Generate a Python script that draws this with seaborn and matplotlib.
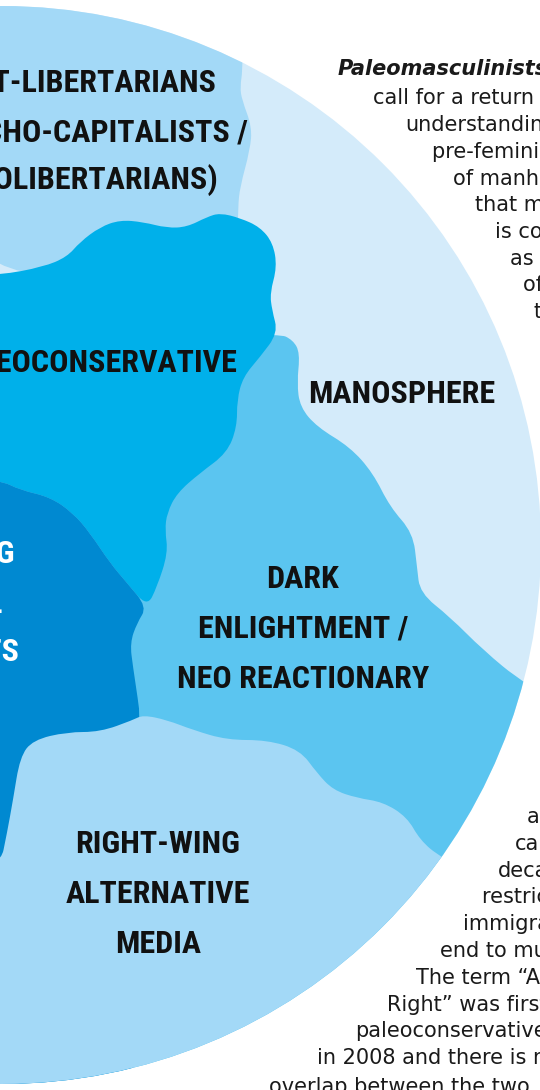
import matplotlib.pyplot as plt
import matplotlib.font_manager as fm
from matplotlib.patches import Circle, PathPatch
from matplotlib.path import Path
import seaborn as sns

# Region fills (outer disc first, then the overlapping blobs)
REGION_NAMES = ["manosphere", "alt_libertarian", "dark_enlightenment",
                "paleoconservative", "nationalist", "right_wing_media"]
REGION_COLORS = ["#D4EBFA", "#A3D9F7", "#5BC5F0", "#00B0EA", "#0089D1", "#A3D9F7"]

# Boundaries between the regions (pixel space, y down)
ALTLIB_EDGE_X = [243, 240, 242, 252, 250, 240, 238]
ALTLIB_EDGE_Y = [68, 87, 100, 127, 150, 187, 207]

PALEO_TOP_X = [0, 43, 67, 80, 100, 120, 143, 167, 187, 207, 220, 240, 260, 273, 277, 270, 272, 278]
PALEO_TOP_Y = [275, 267, 257, 242, 227, 220, 222, 228, 227, 217, 213, 218, 227, 243, 267, 293, 310, 333]

PALEO_DARK_X = [278, 260, 243, 237, 237, 227, 200, 177, 167, 165, 168, 157, 147]
PALEO_DARK_Y = [333, 357, 377, 400, 427, 453, 473, 493, 513, 530, 553, 587, 607]

NAT_TOP_X = [0, 20, 50, 73, 90, 110, 127, 147]
NAT_TOP_Y = [480, 490, 497, 513, 533, 563, 583, 607]

NAT_DARK_X = [147, 137, 130, 133, 138, 140]
NAT_DARK_Y = [607, 623, 643, 667, 700, 717]

MANO_DARK_X = [278, 293, 300, 297, 300, 317, 350, 373, 390, 413, 417, 420, 450, 483, 523]
MANO_DARK_Y = [333, 340, 353, 383, 407, 427, 447, 473, 507, 533, 567, 593, 617, 650, 683]

MEDIA_TOP_X = [0, 7, 13, 20, 33, 67, 100, 133, 143, 167, 193, 227, 267, 300, 317, 333, 357, 383, 407, 420, 440]
MEDIA_TOP_Y = [867, 833, 800, 757, 740, 732, 732, 720, 715, 720, 730, 740, 740, 750, 773, 790, 798, 802, 817, 840, 857]

# Labels
ALTLIB_LINES = ["ALT-LIBERTARIANS", "(ANARCHO-CAPITALISTS /", "PALEOLIBERTARIANS)"]
PALEO_LABEL = "PALEOCONSERVATIVE"
MANO_LABEL = "MANOSPHERE"
DARK_LINES = ["DARK", "ENLIGHTMENT /", "NEO REACTIONARY"]
MEDIA_LINES = ["RIGHT-WING", "ALTERNATIVE", "MEDIA"]
NAT_LINES = ["FAR-RIGHT WING", "RADICAL", "NATIONALISTS"]

TOP_NOTE_LINES = ["Paleomasculinists", "call for a return to", "understanding", "pre-feminist ideas",
                  "of manhood", "that men", "is considered", "as the head", "of the", "the"]
BOTTOM_NOTE_LINES = ["a", "call", "decades", "restrictions on", "immigration",
                     "end to multiculturalism.", "The term \u201cAlternative",
                     "Right\u201d was first used by", "paleoconservatives",
                     "in 2008 and there is much", "overlap between the two."]

# layout (pixels)
CX, CY, R = 2, 545, 539
ALTLIB_POS = [(217, 92), (248, 142), (218, 189)]
PALEO_POS = (237, 372)
MANO_POS = (402, 403)
DARK_POS = [(303, 588), (303, 638), (303, 688)]
MEDIA_POS = [(158, 853), (158, 903), (158, 953)]
NAT_POS = [(15, 563), (3, 613), (19, 661)]
TOP_NOTE_X = [338, 373, 405, 432, 453, 475, 495, 510, 523, 534]
TOP_NOTE_Y = [75, 104, 131, 158, 185, 211, 238, 265, 291, 318]
BOTTOM_NOTE_X = [527, 515, 498, 482, 463, 440, 416, 387, 355, 317, 269]
BOTTOM_NOTE_Y = [823, 850, 877, 903, 930, 957, 984, 1011, 1037, 1064, 1093]

sns.set_theme(style="white")
palette = sns.color_palette(REGION_COLORS)

# pick a narrow bold face for the headings
fonts = fm.fontManager.ttflist
names = {f.name for f in fonts}
stretch = "normal"
if "Roboto Condensed" in names:
    head_family = "Roboto Condensed"
elif "Liberation Sans Narrow" in names:
    head_family = "Liberation Sans Narrow"
elif any(f.name == "DejaVu Sans" and "condensed" in str(f.stretch) for f in fonts):
    head_family, stretch = "DejaVu Sans", "condensed"
else:
    head_family = "Roboto"
body_family = "DejaVu Sans"

fig = plt.figure(figsize=(5.4, 10.9), dpi=100)
ax = fig.add_axes([0, 0, 1, 1])
ax.set_xlim(0, 540)
ax.set_ylim(1090, 0)
ax.set_axis_off()

disc = Circle((CX, CY), R, facecolor=palette[0], edgecolor="none", zorder=1)
ax.add_patch(disc)


def region(xs, ys, color, z):
    # closed outline drawn as quadratic curves through the traced points
    pts = list(zip(xs, ys))
    n = len(pts)
    mids = [((pts[i][0] + pts[(i + 1) % n][0]) / 2, (pts[i][1] + pts[(i + 1) % n][1]) / 2)
            for i in range(n)]
    verts = [mids[-1]]
    codes = [Path.MOVETO]
    for i in range(n):
        verts += [pts[i], mids[i]]
        codes += [Path.CURVE3, Path.CURVE3]
    verts.append(mids[-1])
    codes.append(Path.CLOSEPOLY)
    patch = PathPatch(Path(verts, codes), facecolor=color, edgecolor="none", zorder=z)
    ax.add_patch(patch)
    patch.set_clip_path(disc)


# alt-libertarian (top left)
region([-60, 243] + ALTLIB_EDGE_X + [238, -60],
       [-60, -60] + ALTLIB_EDGE_Y + [240, 300], palette[1], 2)
# dark enlightenment (drawn big, the others cover it)
region(MANO_DARK_X + [620, 620, -60, -60],
       MANO_DARK_Y + [740, 1200, 1200, 333], palette[2], 3)
# paleoconservative
region([-60] + PALEO_TOP_X + PALEO_DARK_X[1:] + NAT_TOP_X[::-1][1:] + [-60],
       [278] + PALEO_TOP_Y + PALEO_DARK_Y[1:] + NAT_TOP_Y[::-1][1:] + [478], palette[3], 4)
# nationalist block
region([-60] + NAT_TOP_X + NAT_DARK_X[1:] + [140, -60],
       [478] + NAT_TOP_Y + NAT_DARK_Y[1:] + [1200, 1200], palette[4], 5)
# right-wing media (bottom)
region([-60] + MEDIA_TOP_X + [560, 560, -60],
       [870] + MEDIA_TOP_Y + [930, 1200, 1200], palette[5], 6)

# heading size: fit MANOSPHERE to its width in the picture
renderer = fig.canvas.get_renderer()
head = dict(fontfamily=head_family, fontweight="bold", fontstretch=stretch)
probe = ax.text(0, 0, MANO_LABEL, fontsize=30, **head)
w = probe.get_window_extent(renderer).width
probe.remove()
hsize = min(30 * 186 / w, 35)
ink = "#111111"

for txt, (x, y) in zip(ALTLIB_LINES, ALTLIB_POS):
    ax.text(x, y, txt, ha="right", va="baseline", fontsize=hsize, color=ink, zorder=10, **head)
ax.text(*PALEO_POS, PALEO_LABEL, ha="right", va="baseline", fontsize=hsize, color=ink, zorder=10, **head)
ax.text(*MANO_POS, MANO_LABEL, ha="center", va="baseline", fontsize=hsize, color=ink, zorder=10, **head)
for txt, (x, y) in zip(DARK_LINES, DARK_POS):
    ax.text(x, y, txt, ha="center", va="baseline", fontsize=hsize, color=ink, zorder=10, **head)
for txt, (x, y) in zip(MEDIA_LINES, MEDIA_POS):
    ax.text(x, y, txt, ha="center", va="baseline", fontsize=hsize, color=ink, zorder=10, **head)
for txt, (x, y) in zip(NAT_LINES, NAT_POS):
    ax.text(x, y, txt, ha="right", va="baseline", fontsize=hsize, color="white", zorder=10, **head)

# side notes
for i, (txt, x, y) in enumerate(zip(TOP_NOTE_LINES, TOP_NOTE_X, TOP_NOTE_Y)):
    style = dict(fontweight="bold", fontstyle="italic") if i == 0 else {}
    ax.text(x, y, txt, ha="left", va="baseline", fontsize=15, color="#1a1a1a",
            fontfamily=body_family, zorder=10, **style)
for txt, x, y in zip(BOTTOM_NOTE_LINES, BOTTOM_NOTE_X, BOTTOM_NOTE_Y):
    ax.text(x, y, txt, ha="left", va="baseline", fontsize=15, color="#1a1a1a",
            fontfamily=body_family, zorder=10)

fig.savefig("out.png", dpi=100, facecolor="white")
